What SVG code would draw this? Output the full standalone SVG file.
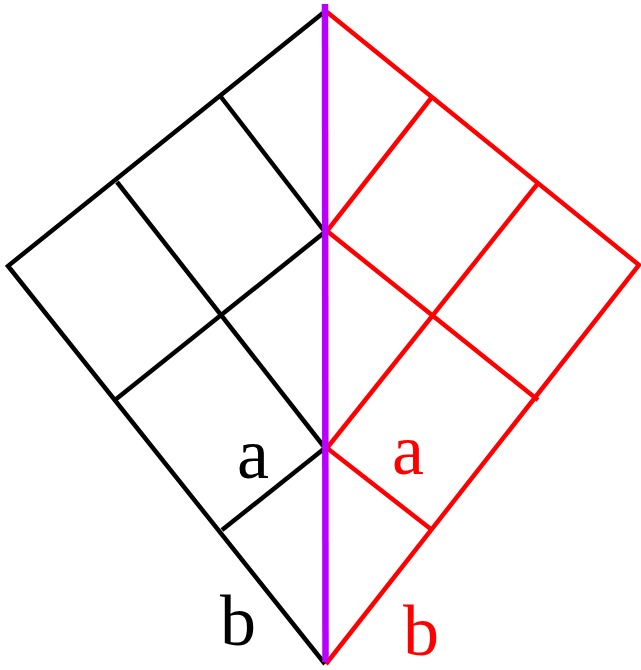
<svg xmlns="http://www.w3.org/2000/svg" width="641" height="670" viewBox="0 0 641 670">
<style>
.blk{fill:none;stroke:#000;stroke-width:4.5;stroke-linejoin:miter}
.red{fill:none;stroke:#ff0000;stroke-width:4.5;stroke-linejoin:miter}
.lbl{font-family:"Liberation Serif",serif;font-size:72px}
</style>
<rect width="641" height="670" fill="#fff"/>
<g id="connectors">
<g id="black-kite">
<polyline class="blk" points="323,13 8,266 325,664"/>
<line class="blk" x1="221" y1="97" x2="325" y2="232"/>
<line class="blk" x1="117" y1="182" x2="325" y2="448"/>
<line class="blk" x1="325" y1="232" x2="115" y2="400"/>
<line class="blk" x1="325" y1="448" x2="222" y2="530"/>
</g>
<g id="red-kite">
<polyline class="red" points="327,12 639,265 326,664"/>
<line class="red" x1="432" y1="97" x2="327" y2="231"/>
<line class="red" x1="539" y1="182" x2="327" y2="448"/>
<line class="red" x1="327" y1="231" x2="538" y2="400"/>
<line class="red" x1="327" y1="448" x2="432" y2="530"/>
</g>
<line id="axis" x1="325" y1="4" x2="325.5" y2="662" stroke="#b700ff" stroke-width="6.5"/>
</g>
<g id="label-a-black"><text class="lbl" x="237" y="478" fill="#000">a</text></g>
<g id="label-a-red"><text class="lbl" x="392" y="474" fill="#ff0000">a</text></g>
<g id="label-b-black"><text class="lbl" x="220" y="645" fill="#000">b</text></g>
<g id="label-b-red"><text class="lbl" x="403" y="655" fill="#ff0000">b</text></g>
</svg>
